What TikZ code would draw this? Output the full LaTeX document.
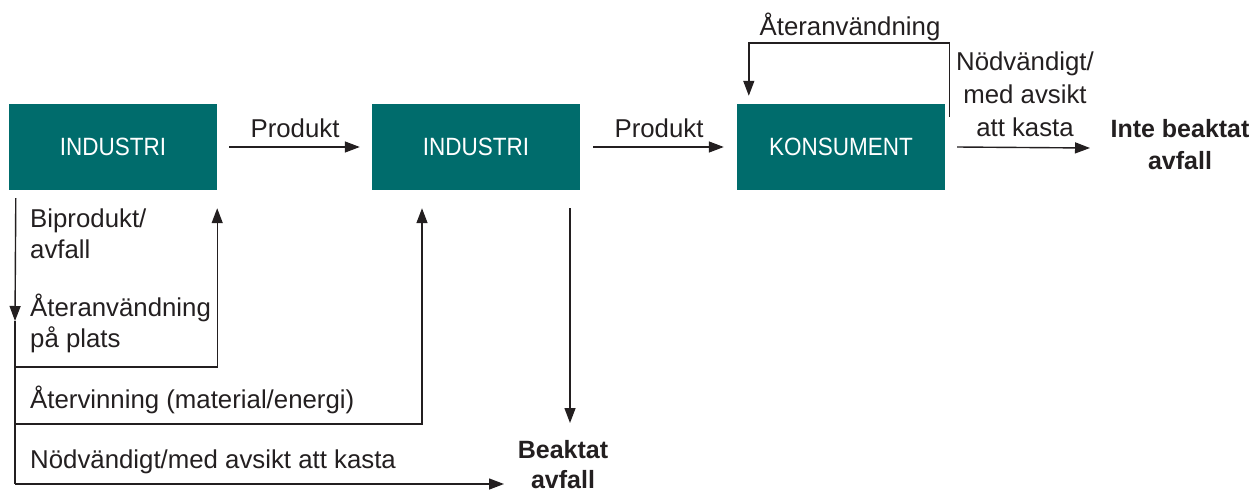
\documentclass[tikz,border=0pt]{standalone}
\usepackage{fontspec}
\setmainfont{Liberation Sans}
\newfontfamily\boxfont{Liberation Sans}[FakeStretch=0.9]
\usetikzlibrary{arrows.meta,calc}
\definecolor{teal}{RGB}{0,108,108}
\definecolor{ink}{RGB}{35,31,32}
\begin{document}
\begin{tikzpicture}[x=1pt,y=-1pt,
  box/.style={fill=teal,draw=none,minimum width=208pt,minimum height=86pt,inner sep=0pt,
    text=white,font=\boxfont\fontsize{25}{30}\selectfont},
  lbl/.style={inner sep=0pt,text=ink,font=\fontsize{25.8}{31}\selectfont},
  blbl/.style={inner sep=0pt,text=ink,font=\bfseries\fontsize{25}{31}\selectfont,align=center},
  conn/.style={draw=ink,line width=1.4pt},
  arr/.style={conn,-{Triangle[length=15pt,width=11pt]}}]
\useasboundingbox (0,0) rectangle (1260,493);
\node[box] (b1) at (113,147) {INDUSTRI};
\node[box] (b2) at (476,147) {INDUSTRI};
\node[box] (b3) at (841,147) {KONSUMENT};
% labels
\node[blbl,anchor=base,font=\bfseries\fontsize{25}{32}\selectfont] (inte) at (1180,169) {Inte beaktat\\avfall};
\node[blbl,anchor=base,font=\bfseries\fontsize{25}{30}\selectfont] (beak) at (563,488) {Beaktat\\avfall};
\node[lbl,anchor=base] (p1) at (295,137) {Produkt};
\node[lbl,anchor=base] (p2) at (659,137) {Produkt};
\node[lbl,anchor=base] (ater) at (850,35) {Återanvändning};
\node[lbl,anchor=base,align=center,font=\fontsize{25.8}{33}\selectfont] (nod) at (1025,136) {Nödvändigt/\\med avsikt\\att kasta};
\node[lbl,anchor=base west,align=left] (bip) at (30,258) {Biprodukt/\\avfall};
\node[lbl,anchor=base west,align=left] (plats) at (30,347) {Återanvändning\\på plats};
\node[lbl,anchor=base west] (vinn) at (30,408) {Återvinning (material/energi)};
\node[lbl,anchor=base west] (kast) at (30,468) {Nödvändigt/med avsikt att kasta};
% coordinates
\coordinate (dl) at ([xshift=7pt,yshift=-8pt]b1.south west);
\coordinate (mid) at (15,321);
\coordinate (r1) at (15,367);
\coordinate (r2) at (15,424);
\coordinate (r3) at (15,484);
\coordinate (e3) at (504,484);
% main flow
\draw[arr] ([xshift=12pt]b1.east) -- ([xshift=-12pt]b2.west);
\draw[arr] ([xshift=13pt]b2.east) -- ([xshift=-13pt]b3.west);
\draw[arr] ([xshift=12pt]b3.east) -- (1090,148);
% reuse loop
\draw[arr] ([xshift=4pt,yshift=-13pt]b3.north east) -- ++(0,-74) -| ([xshift=12pt,yshift=8pt]b3.north west);
% left side
\draw[arr] (dl) -- (mid);
\draw[conn] (mid) -- (r3);
\draw[arr] (r1) -| ([yshift=-18pt]b1.south east);
\draw[arr] (r2) -| ([xshift=-54pt,yshift=-18pt]b2.south);
\draw[arr] (r3) -- (e3);
\draw[arr] ([xshift=94pt,yshift=-18pt]b2.south) -- (570,423);
\end{tikzpicture}
\end{document}
